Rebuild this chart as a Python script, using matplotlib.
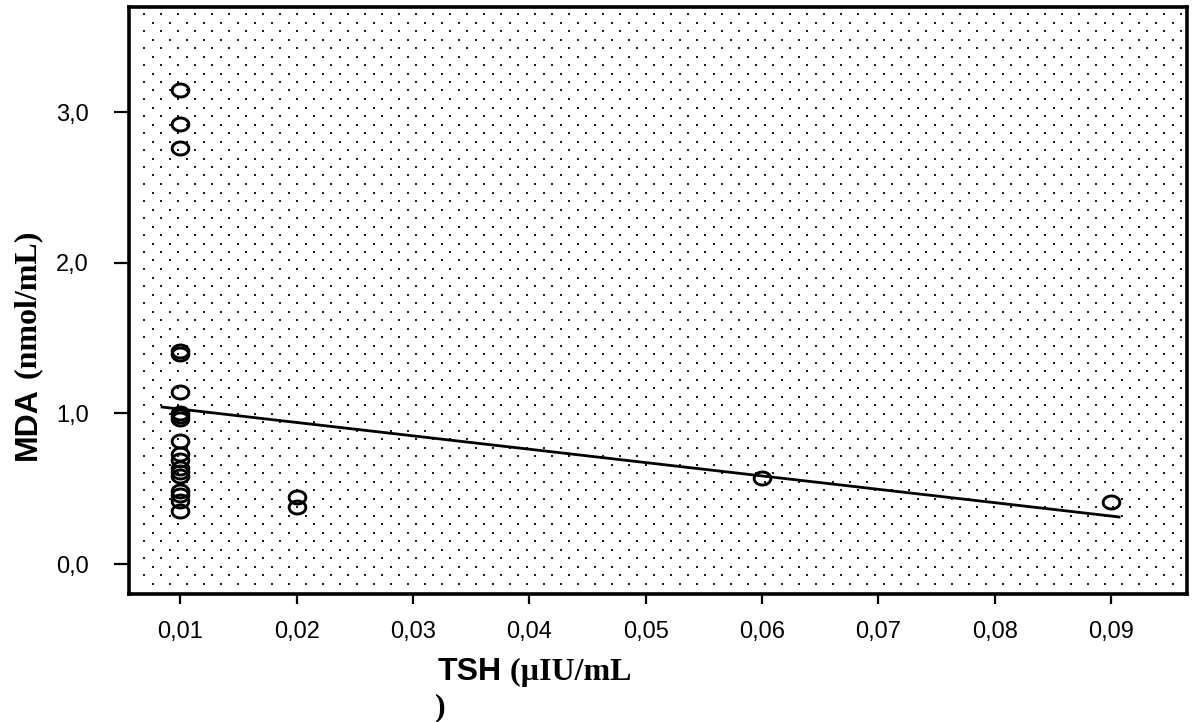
import numpy as np
import matplotlib

matplotlib.use("Agg")
import matplotlib.pyplot as plt
from matplotlib.path import Path


# values
tsh_x = [0.01] * 19 + [0.02, 0.02, 0.06, 0.09]
mda_y = [
    3.146, 2.921, 2.762, 1.417, 1.397, 1.139, 1.000, 0.980, 0.960, 0.815,
    0.728, 0.689, 0.636, 0.609, 0.583, 0.483, 0.457, 0.417, 0.351,
    0.444, 0.377, 0.570, 0.410,
]
fit_intercept = 1.1168
fit_slope = -8.87
fit_range = [0.00843, 0.0907]

x_ticks = [0.01, 0.02, 0.03, 0.04, 0.05, 0.06, 0.07, 0.08, 0.09]
x_tick_labels = ["0,01", "0,02", "0,03", "0,04", "0,05", "0,06", "0,07", "0,08", "0,09"]
y_ticks = [0.0, 1.0, 2.0, 3.0]
y_tick_labels = ["0,0", "1,0", "2,0", "3,0"]

W, H = 1193, 722
fig = plt.figure(figsize=(W / 100, H / 100), dpi=100)
ax = fig.add_axes([128.7 / W, 1 - 594 / H, (1187 - 128.7) / W, (594 - 7) / H])
ax.set_xlim(0.00556, 0.09654)
ax.set_ylim(-0.199, 3.697)

# dotted background texture (staggered grid, in pixels of the axes box)
ax_w, ax_h = 1187 - 128.7, 594 - 7
dots_x, dots_y = [], []
row = 0
py = 7.0
while py < ax_h - 2:
    px = 15.5 if row % 2 == 0 else 24.0
    while px < ax_w - 2:
        dots_x.append(px / ax_w)
        dots_y.append(1 - py / ax_h)
        px += 17.0
    py += 8.5
    row += 1
ax.scatter(dots_x, dots_y, s=1.5, marker="s", color="#1a1a1a", linewidths=0,
           transform=ax.transAxes, zorder=1)

# slightly flattened open circles
t = np.linspace(0, 2 * np.pi, 60)
ellipse = Path(np.column_stack([np.cos(t), 0.78 * np.sin(t)]), closed=True)
ax.plot(tsh_x, mda_y, linestyle="none", marker=ellipse, markersize=12,
        markerfacecolor="none", markeredgecolor="black", markeredgewidth=2.1, zorder=3)

fit_x = np.array(fit_range)
ax.plot(fit_x, fit_intercept + fit_slope * fit_x, color="black", linewidth=2.0, zorder=2)

for side in ["left", "right", "top", "bottom"]:
    ax.spines[side].set_linewidth(2.6)

ax.set_xticks(x_ticks)
ax.set_xticklabels(x_tick_labels, fontfamily="Liberation Sans", fontsize=17)
ax.set_yticks(y_ticks)
ax.set_yticklabels(y_tick_labels, fontfamily="Liberation Sans", fontsize=17)
ax.tick_params(axis="x", length=7.5, width=1.6, pad=12)
ax.tick_params(axis="y", length=10.8, width=1.6, pad=18)

# axis titles: bold sans + bold serif pieces
sans = {"family": "Liberation Sans", "weight": "bold", "size": 23}
serif = {"family": "Liberation Serif", "weight": "bold", "size": 23}

mda = fig.text(43 / W, 1 - 460 / H, "MDA", rotation=90, ha="right", va="bottom", fontdict=sans)
ax.annotate(" (nmol/mL)", xy=(1, 1), xycoords=mda, rotation=90, ha="right", va="bottom",
            annotation_clip=False, fontfamily=serif["family"], fontweight="bold",
            fontsize=serif["size"])

tsh = fig.text(438 / W, 1 - 680 / H, "TSH", ha="left", va="baseline", fontdict=sans)
ax.annotate(" (\u00b5IU/mL", xy=(1, 0), xycoords=tsh, ha="left", va="bottom",
            annotation_clip=False, fontfamily=serif["family"], fontweight="bold",
            fontsize=serif["size"])
fig.text(435 / W, 1 - 715 / H, ")", ha="left", va="baseline", fontdict=serif)

fig.savefig("out.png", dpi=100)
